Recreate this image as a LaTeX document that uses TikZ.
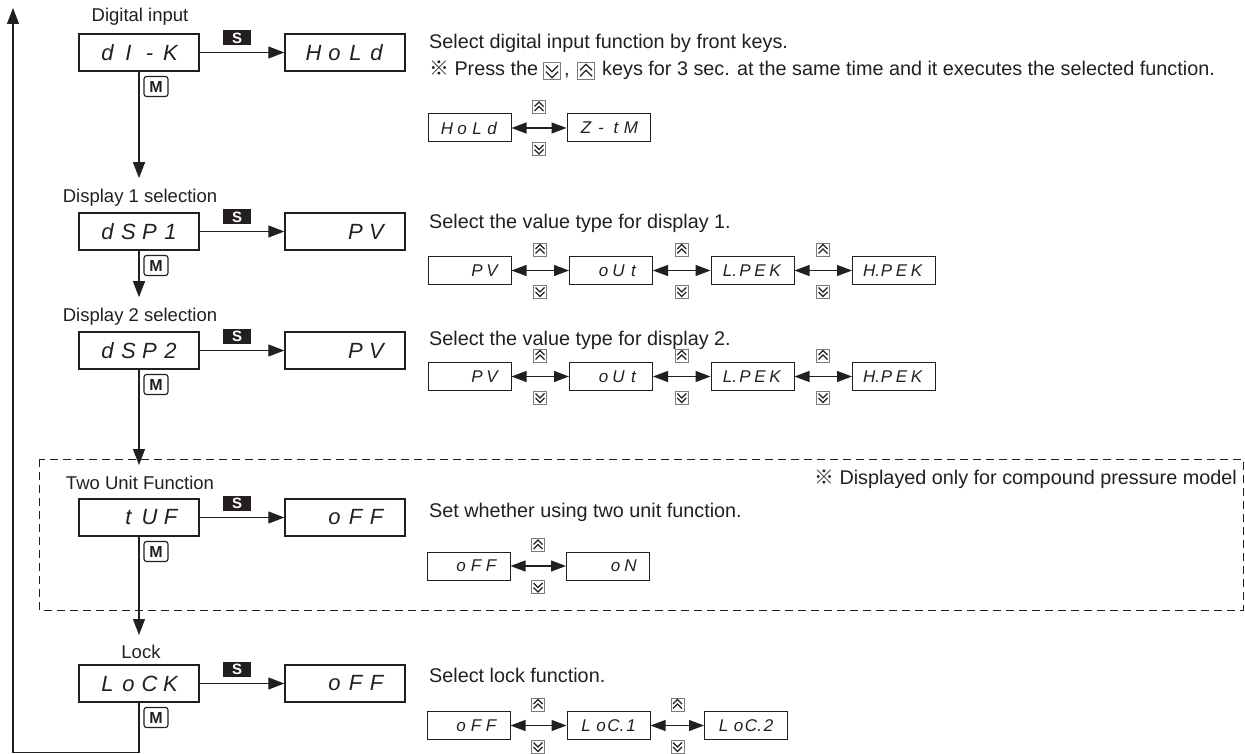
\documentclass[tikz,border=0pt]{standalone}
\usepackage{fontspec}
\setmainfont{Liberation Sans}
\newfontfamily\cjk{Noto Sans CJK JP}
\usetikzlibrary{arrows.meta,calc}
\definecolor{ln}{HTML}{231F20}
\definecolor{keyc}{HTML}{7A7A7A}
\newcommand\sgb[4]{{\fontsize{22}{22}\selectfont\itshape\makebox[21pt]{#1}\makebox[21pt]{#2}\makebox[21pt]{#3}\makebox[21pt]{#4}}}
\newcommand\sgs[4]{{\fontsize{17}{17}\selectfont\itshape\makebox[15pt]{#1}\makebox[15pt]{#2}\makebox[15pt]{#3}\makebox[15pt]{#4}}}
\tikzset{
  mainbox/.style={draw=ln, line width=1.4pt, minimum width=120pt, minimum height=37pt, inner sep=0pt, text=ln},
  smallbox/.style={draw=ln, line width=1pt, minimum width=83pt, minimum height=28pt, inner sep=0pt, text=ln},
  lbl/.style={font=\fontsize{18.5}{20}\selectfont, inner sep=0pt, text=ln},
  desc/.style={font=\fontsize{19.8}{22}\selectfont, anchor=west, inner sep=0pt, text=ln, text height=14.5pt, text depth=4pt},
  skey/.style={fill=ln, minimum width=28pt, minimum height=15pt, inner sep=0pt, text=white, font=\fontsize{15}{15}\selectfont\bfseries},
  mkey/.style={draw=ln, rounded corners=2.5pt, line width=1.1pt, minimum width=24pt, minimum height=20pt, inner sep=0pt, text=ln, font=\fontsize{16}{16}\selectfont\bfseries},
  conn/.style={line width=1.2pt, draw=ln},
  arr/.style={conn, -{Triangle[length=16pt,width=12pt]}},
  dbl/.style={conn, {Triangle[length=15pt,width=11pt]}-{Triangle[length=15pt,width=11pt]}},
  keyup/.pic={\draw[draw=keyc, line width=0.8pt, fill=white] (-6.5,-6.5) rectangle (6.5,6.5);
    \draw[ln, line width=1.2pt] (-4.5,-0.5) -- (0,-5) -- (4.5,-0.5) (-4.5,4) -- (0,-0.5) -- (4.5,4);},
  keydown/.pic={\draw[draw=keyc, line width=0.8pt, fill=white] (-6.5,-6.5) rectangle (6.5,6.5);
    \draw[ln, line width=1.2pt] (-4.5,0.5) -- (0,5) -- (4.5,0.5) (-4.5,-4) -- (0,0.5) -- (4.5,-4);},
}
\begin{document}
\begin{tikzpicture}[x=1pt,y=-1pt]
\useasboundingbox (0,0) rectangle (1245,754);

% dashed frame
\draw[ln, line width=1pt, dash pattern=on 8pt off 5pt] (39,459) rectangle (1243,610);

% ---------- Row 1 ----------
\node[lbl] (l1) at (140,17) {Digital input};
\node[mainbox] (m1) at (139,52.5) {\sgb{d}{I}{-}{K}};
\node[mainbox] (v1) at (345,52.5) {\sgb{H}{o}{L}{d}};
\draw[arr] (m1.east) -- (v1.west);
\node[skey] (s1) at (237,38) {S};
\node[mkey] (k1) at (156,86.5) {M};
\node[desc] (d1) at (429,43) {Select digital input function by front keys.};
\node[desc] (d1b) at (429,70) {{\cjk ※} Press the};
\pic[scale=1.35] at (552,71) {keydown};
\node[desc] (d1c) at (564,70) {,};
\pic[scale=1.35] at (586,71) {keyup};
\node[desc] (d1d) at (602,70) {keys for 3 sec. at the same time and it executes the selected function.};
\node[smallbox] (o1a) at (469.5,128) {\sgs{H}{o}{L}{d}};
\node[smallbox] (o1b) at (608.5,128) {\sgs{Z}{-}{t}{M}};
\draw[dbl] (o1a.east) -- (o1b.west);
\pic at (539,107) {keyup};
\pic at (539,149) {keydown};

% ---------- Row 2 ----------
\node[lbl] (l2) at (140,198) {Display 1 selection};
\node[mainbox] (m2) at (139,231.5) {\sgb{d}{S}{P}{1}};
\node[mainbox] (v2) at (345,231.5) {\sgb{}{}{P}{V}};
\draw[arr] (m2.east) -- (v2.west);
\node[skey] (s2) at (237,217) {S};
\node[mkey] (k2) at (156,265.5) {M};
\node[desc] (d2) at (429,223) {Select the value type for display 1.};
\node[smallbox] (o2a) at (469.5,270.5) {\sgs{}{}{P}{V}};
\node[smallbox] (o2b) at (611,270.5) {\sgs{}{o}{U}{t}};
\node[smallbox] (o2c) at (752.5,270.5) {\sgs{L.}{P}{E}{K}};
\node[smallbox] (o2d) at (894,270.5) {\sgs{H.}{P}{E}{K}};
\draw[dbl] (o2a.east) -- (o2b.west);
\draw[dbl] (o2b.east) -- (o2c.west);
\draw[dbl] (o2c.east) -- (o2d.west);
\foreach \kx in {540,681.75,823} {\pic at (\kx,249.5) {keyup}; \pic at (\kx,291.5) {keydown};}

% ---------- Row 3 ----------
\node[lbl] (l3) at (140,317) {Display 2 selection};
\node[mainbox] (m3) at (139,350.5) {\sgb{d}{S}{P}{2}};
\node[mainbox] (v3) at (345,350.5) {\sgb{}{}{P}{V}};
\draw[arr] (m3.east) -- (v3.west);
\node[skey] (s3) at (237,336) {S};
\node[mkey] (k3) at (156,384.5) {M};
\node[desc] (d3) at (429,340) {Select the value type for display 2.};
\node[smallbox] (o3a) at (469.5,376.5) {\sgs{}{}{P}{V}};
\node[smallbox] (o3b) at (611,376.5) {\sgs{}{o}{U}{t}};
\node[smallbox] (o3c) at (752.5,376.5) {\sgs{L.}{P}{E}{K}};
\node[smallbox] (o3d) at (894,376.5) {\sgs{H.}{P}{E}{K}};
\draw[dbl] (o3a.east) -- (o3b.west);
\draw[dbl] (o3b.east) -- (o3c.west);
\draw[dbl] (o3c.east) -- (o3d.west);
\foreach \kx in {540,681.75,823} {\pic at (\kx,355.5) {keyup}; \pic at (\kx,397.5) {keydown};}

% ---------- Row 4 ----------
\node[lbl] (l4) at (140,483) {Two Unit Function};
\node[desc, anchor=east] (note) at (1237,479) {{\cjk ※} Displayed only for compound pressure model};
\node[mainbox] (m4) at (139,517.5) {\sgb{}{t}{U}{F}};
\node[mainbox] (v4) at (345,517.5) {\sgb{}{o}{F}{F}};
\draw[arr] (m4.east) -- (v4.west);
\node[skey] (s4) at (237,503) {S};
\node[mkey] (k4) at (156,551.5) {M};
\node[desc] (d4) at (429,512) {Set whether using two unit function.};
\node[smallbox] (o4a) at (468.5,566) {\sgs{}{o}{F}{F}};
\node[smallbox] (o4b) at (608,566) {\sgs{}{}{o}{N}};
\draw[dbl] (o4a.east) -- (o4b.west);
\pic at (538,545) {keyup};
\pic at (538,587) {keydown};

% ---------- Row 5 ----------
\node[lbl] (l5) at (141,652) {Lock};
\node[mainbox] (m5) at (139,683.5) {\sgb{L}{o}{C}{K}};
\node[mainbox] (v5) at (345,683.5) {\sgb{}{o}{F}{F}};
\draw[arr] (m5.east) -- (v5.west);
\node[skey] (s5) at (237,669) {S};
\node[mkey] (k5) at (156,717.5) {M};
\node[desc] (d5) at (429,677) {Select lock function.};
\node[smallbox] (o5a) at (468.5,725.5) {\sgs{}{o}{F}{F}};
\node[smallbox] (o5b) at (608.5,725.5) {\sgs{L}{o}{C.}{1}};
\node[smallbox] (o5c) at (746,725.5) {\sgs{L}{o}{C.}{2}};
\draw[dbl] (o5a.east) -- (o5b.west);
\draw[dbl] (o5b.east) -- (o5c.west);
\foreach \kx in {538,677.5} {\pic at (\kx,704.5) {keyup}; \pic at (\kx,746.5) {keydown};}

% ---------- vertical flow ----------
\draw[arr, shorten >=11pt] (m1.south) -- (m1.south |- l2.north);
\draw[arr, shorten >=11pt] (m2.south) -- (m2.south |- l3.north);
\draw[arr, shorten >=11pt] (m3.south) -- (m3.south |- l4.north);
\draw[arr, shorten >=10pt] (m4.south) -- (m4.south |- l5.north);
\coordinate (c1) at (139,752.5);
\coordinate (c2) at (13,752.5);
\coordinate (c3) at (13,8);
\draw[arr] (m5.south) -- (c1) -- (c2) -- (c3);
\end{tikzpicture}
\end{document}
